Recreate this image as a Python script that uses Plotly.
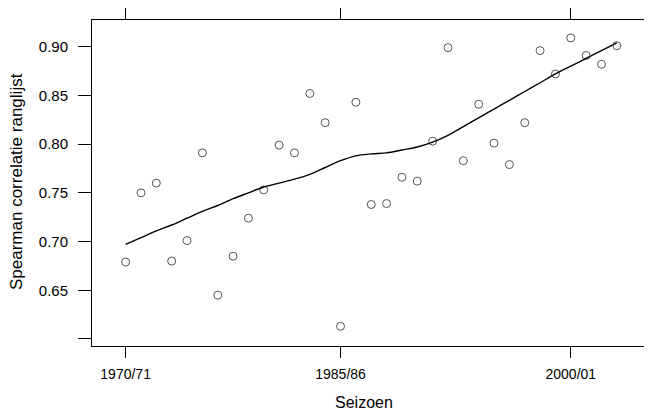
import plotly.graph_objects as go

season_index = list(range(33))
spearman = [0.679, 0.750, 0.760, 0.680, 0.701, 0.791, 0.645, 0.685, 0.724, 0.753,
            0.799, 0.791, 0.852, 0.822, 0.613, 0.843, 0.738, 0.739, 0.766, 0.762,
            0.803, 0.899, 0.783, 0.841, 0.801, 0.779, 0.822, 0.896, 0.872, 0.909,
            0.891, 0.882, 0.901]
smooth = [0.697, 0.704, 0.711, 0.717, 0.724, 0.731, 0.737, 0.744, 0.750, 0.756,
          0.760, 0.764, 0.769, 0.776, 0.783, 0.788, 0.790, 0.791, 0.794, 0.797,
          0.802, 0.809, 0.818, 0.827, 0.836, 0.845, 0.854, 0.863, 0.872, 0.880,
          0.888, 0.896, 0.904]
x_tickvals = [0, 14, 29]
x_ticktext = ["1970/71", "1985/86", "2000/01"]
y_tickvals = [0.60, 0.65, 0.70, 0.75, 0.80, 0.85, 0.90]
y_ticktext = ["", "0.65", "0.70", "0.75", "0.80", "0.85", "0.90"]
x_title = "Seizoen"
y_title = "Spearman correlatie ranglijst"

fig = go.Figure()
fig.add_trace(go.Scatter(x=season_index, y=spearman, mode="markers",
                         marker=dict(symbol="circle-open", size=8,
                                     color="#555555", line=dict(width=1)),
                         showlegend=False))
fig.add_trace(go.Scatter(x=season_index, y=smooth, mode="lines",
                         line=dict(color="black", width=1.4, shape="spline"),
                         showlegend=False))

family = "Liberation Sans, Arial, sans-serif"
fig.update_layout(
    width=644, height=406,
    margin=dict(l=84, r=4, t=12, b=68),
    plot_bgcolor="white", paper_bgcolor="white",
    font=dict(family=family, size=14, color="black"),
    xaxis=dict(range=[-2.19, 34.03], tickvals=x_tickvals, ticktext=x_ticktext,
               ticks="outside", ticklen=11, tickwidth=1, tickcolor="black",
               ticklabelstandoff=4, tickfont=dict(size=14),
               showline=True, linecolor="black", linewidth=1, mirror="ticks",
               showgrid=False, zeroline=False, automargin=False),
    yaxis=dict(range=[0.5928, 0.9274], tickvals=y_tickvals, ticktext=y_ticktext,
               ticks="outside", ticklen=13, tickwidth=1, tickcolor="black",
               ticklabelstandoff=7, tickfont=dict(size=15),
               showline=True, linecolor="black", linewidth=1, mirror="ticks",
               showgrid=False, zeroline=False, automargin=False),
    annotations=[
        dict(text=x_title, xref="paper", yref="paper", x=0.5, y=0,
             xshift=-6, yshift=-56, showarrow=False, xanchor="center",
             yanchor="middle", font=dict(size=16)),
        dict(text=y_title, xref="paper", yref="paper", x=0, y=0.5,
             xshift=-76, yshift=1, showarrow=False, textangle=-90,
             xanchor="center", yanchor="middle", font=dict(size=17)),
    ],
)
fig.write_html("out.html")
